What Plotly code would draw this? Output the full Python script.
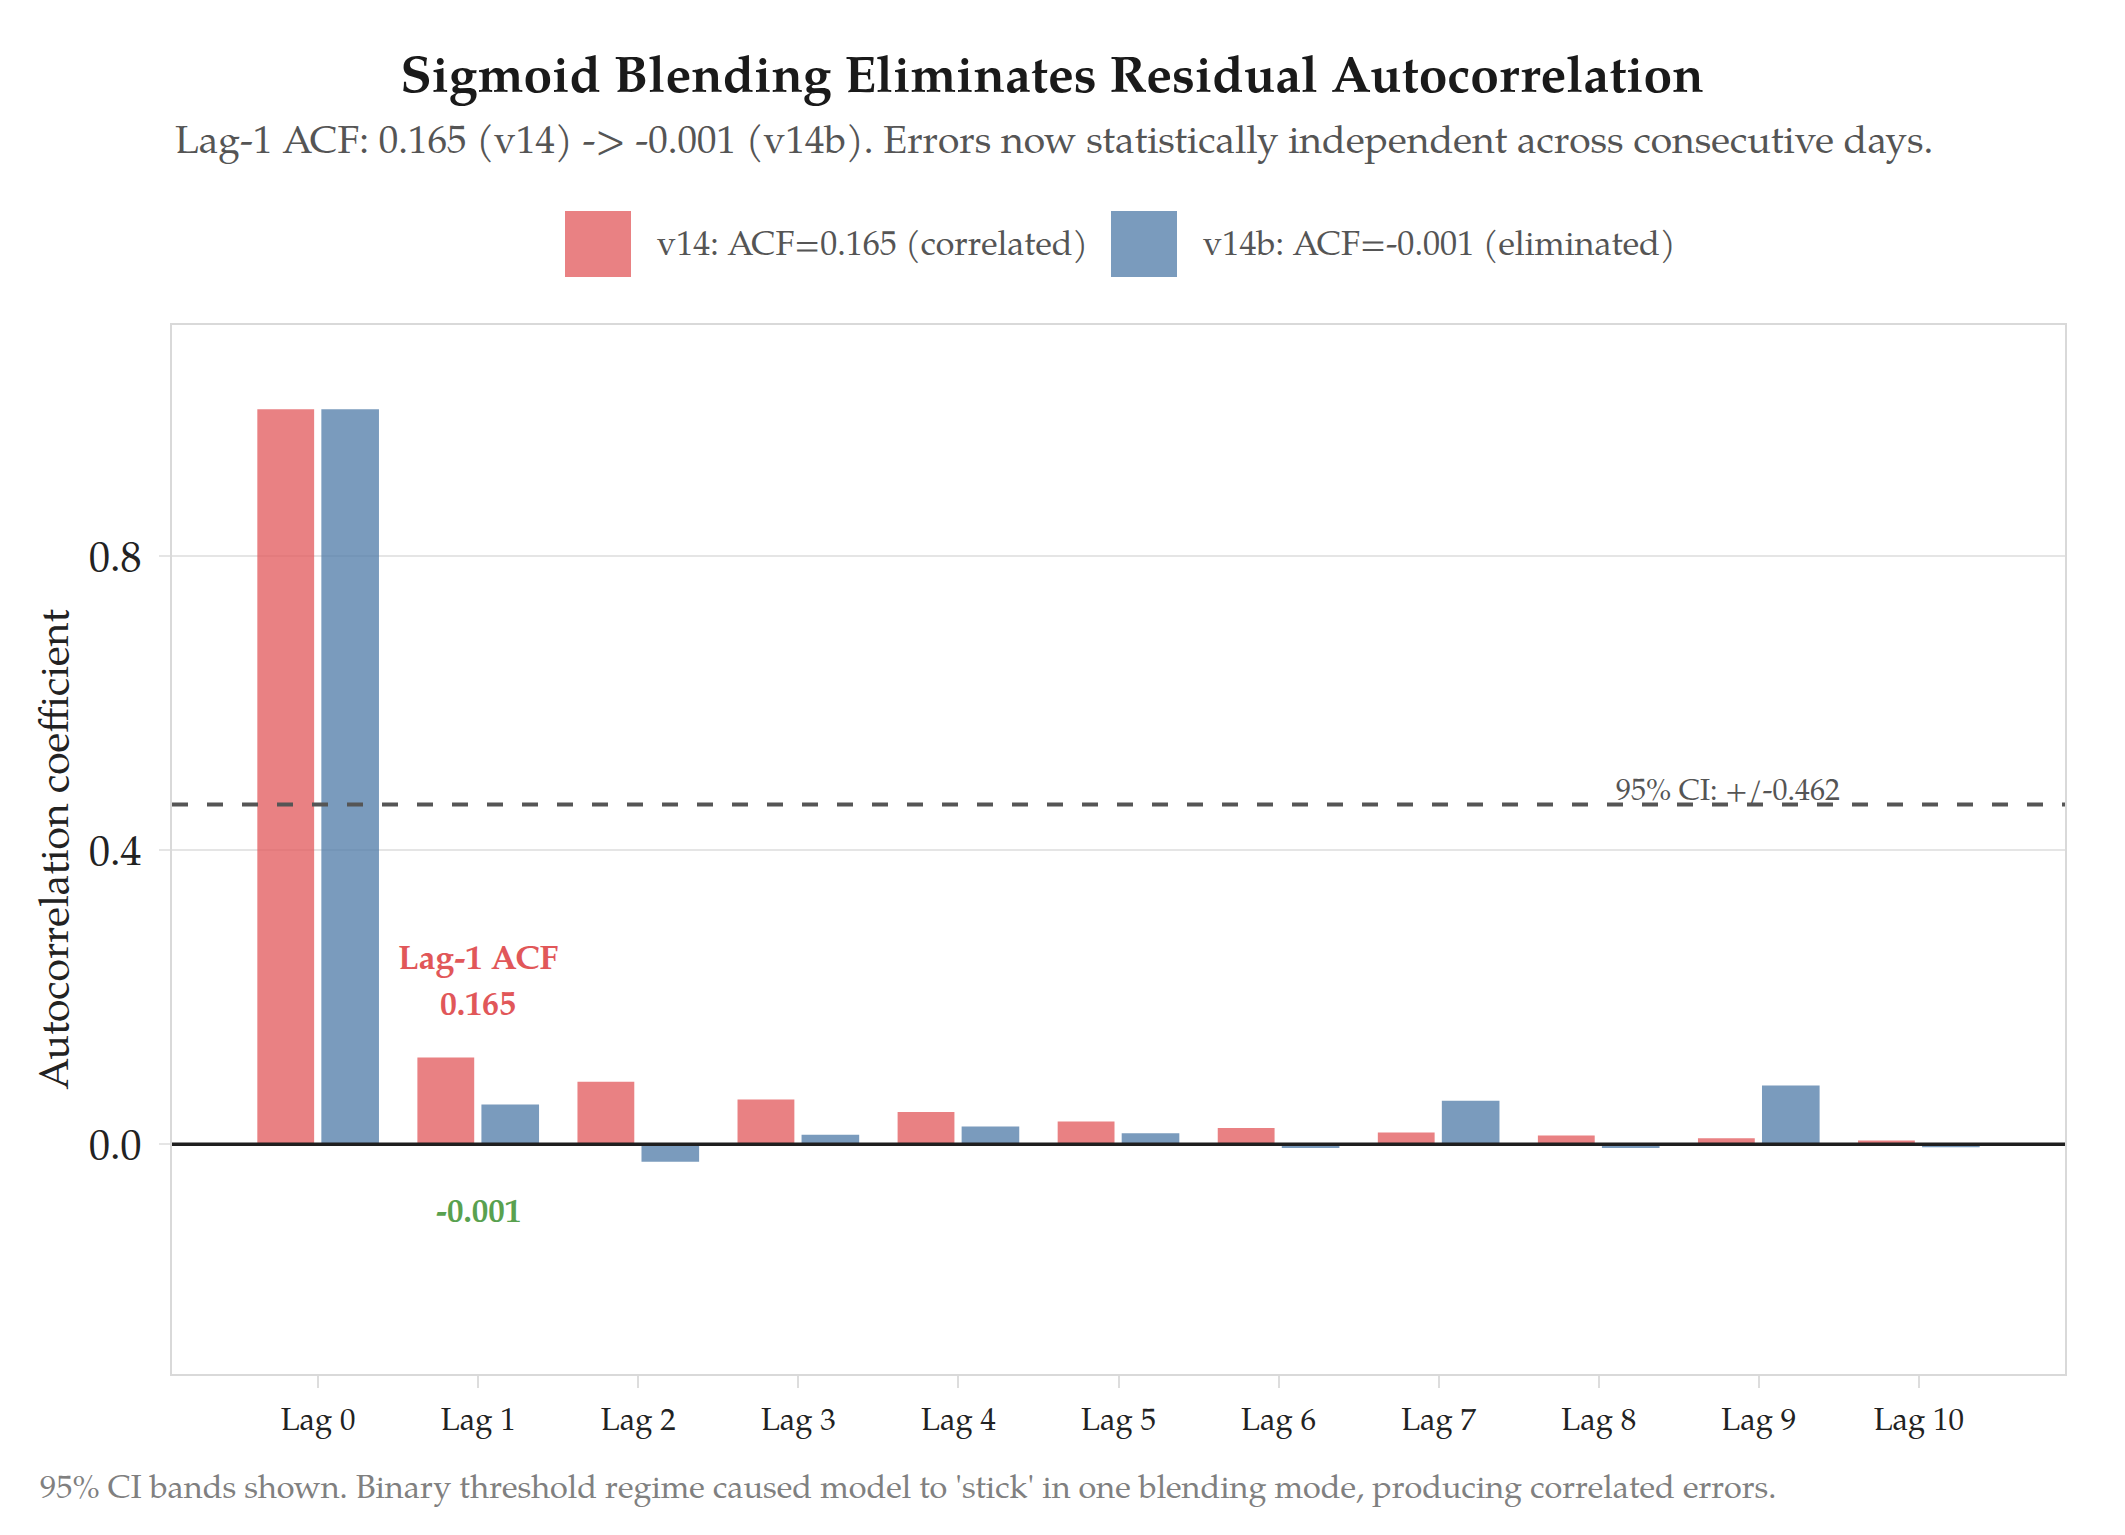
import plotly.graph_objects as go

lags = ["Lag 0", "Lag 1", "Lag 2", "Lag 3", "Lag 4", "Lag 5", "Lag 6", "Lag 7", "Lag 8", "Lag 9", "Lag 10"]
acf_v14 = [1.0, 0.118, 0.085, 0.061, 0.044, 0.031, 0.022, 0.016, 0.012, 0.008, 0.005]
acf_v14b = [1.0, 0.054, -0.024, 0.013, 0.024, 0.015, -0.005, 0.059, -0.005, 0.080, -0.004]
ci_bound = 0.462
name_v14 = "v14: ACF=0.165 (correlated)"
name_v14b = "v14b: ACF=-0.001 (eliminated)"
title_text = "Sigmoid Blending Eliminates Residual Autocorrelation"
subtitle_text = "Lag-1 ACF: 0.165 (v14) -> -0.001 (v14b). Errors now statistically independent across consecutive days."
footnote_text = "95% CI bands shown. Binary threshold regime caused model to 'stick' in one blending mode, producing correlated errors."
ytitle = "Autocorrelation coefficient"

FONT = "Palatino Linotype, Palatino, Book Antiqua, P052, TeX Gyre Pagella, URW Palladio L, Liberation Serif, serif"
RED = "rgba(225,87,89,0.75)"
BLUE = "rgba(78,121,167,0.75)"

W, H = 2125, 1535
ML, MR, MT, MB = 164, 68, 317, 169
PW, PH = W - ML - MR, H - MT - MB


def px_x(p):
    return (p - ML) / PW


def px_y(p):
    return (H - MB - p) / PH


fig = go.Figure()
fig.add_trace(go.Bar(x=lags, y=acf_v14, name=name_v14, marker=dict(color=RED, line=dict(width=0)),
                     width=0.355, offset=-0.38, showlegend=False))
fig.add_trace(go.Bar(x=lags, y=acf_v14b, name=name_v14b, marker=dict(color=BLUE, line=dict(width=0)),
                     width=0.36, offset=0.02, showlegend=False))

shapes = [
    dict(type="line", xref="paper", yref="y", x0=0, x1=1, y0=ci_bound, y1=ci_bound,
         line=dict(color="#555555", width=4, dash="16px,19px"), layer="above"),
    dict(type="line", xref="paper", yref="y", x0=0, x1=1, y0=0, y1=0,
         line=dict(color="#1f1f1f", width=3.5), layer="above"),
    # legend swatches
    dict(type="rect", xref="paper", yref="paper", x0=px_x(557), x1=px_x(623), y0=px_y(269), y1=px_y(203),
         fillcolor=RED, line=dict(width=0)),
    dict(type="rect", xref="paper", yref="paper", x0=px_x(1103), x1=px_x(1169), y0=px_y(269), y1=px_y(203),
         fillcolor=BLUE, line=dict(width=0)),
]

annotations = [
    dict(text=subtitle_text, xref="paper", yref="paper", x=px_x(1046), y=px_y(135), xanchor="center",
         yanchor="middle", showarrow=False, font=dict(size=39, color="#555555", family=FONT)),
    dict(text=name_v14, xref="paper", yref="paper", x=px_x(647), y=px_y(239), xanchor="left",
         yanchor="middle", showarrow=False, font=dict(size=34, color="#555555", family=FONT)),
    dict(text=name_v14b, xref="paper", yref="paper", x=px_x(1193), y=px_y(239), xanchor="left",
         yanchor="middle", showarrow=False, font=dict(size=34.2, color="#555555", family=FONT)),
    dict(text="<b>Lag-1 ACF</b>", x=1, y=0.248, xref="x", yref="y", showarrow=False,
         xanchor="center", yanchor="middle", font=dict(size=33.7, color="#E15759", family=FONT)),
    dict(text="<b>0.165</b>", x=1, y=0.186, xref="x", yref="y", showarrow=False,
         xanchor="center", yanchor="middle", font=dict(size=33.7, color="#E15759", family=FONT)),
    dict(text="<b>-0.001</b>", x=1, y=-0.096, xref="x", yref="y", showarrow=False,
         xanchor="center", yanchor="middle", font=dict(size=33, color="#59A14F", family=FONT)),
    dict(text="95% CI: +/-0.462", x=8.81, y=ci_bound, xref="x", yref="y", showarrow=False,
         xanchor="center", yanchor="bottom", yshift=-5, font=dict(size=30, color="#555555", family=FONT)),
    dict(text=footnote_text, xref="paper", yref="paper", x=px_x(30), y=px_y(1482), xanchor="left",
         yanchor="middle", showarrow=False, font=dict(size=32.4, color="#808080", family=FONT)),
]

fig.update_layout(
    width=W, height=H, autosize=False,
    margin=dict(l=ML, r=MR, t=MT, b=MB, autoexpand=False),
    paper_bgcolor="white", plot_bgcolor="white",
    font=dict(family=FONT, color="#222222"),
    title=dict(text="<b>" + title_text + "</b>", x=1044 / W, xref="container", xanchor="center",
               y=1 - 66 / H, yref="container", yanchor="middle",
               font=dict(size=51.6, color="#1a1a1a", family=FONT)),
    barmode="group",
    showlegend=False,
    shapes=shapes,
    annotations=annotations,
    xaxis=dict(type="category", range=[-0.913, 10.913], showgrid=False, showline=True, mirror=True,
               linecolor="#d9d9d9", linewidth=2, ticks="outside", ticklen=12, tickwidth=2,
               tickcolor="#dddddd", tickfont=dict(size=31, color="#222222"), zeroline=False,
               ticklabelstandoff=5),
    yaxis=dict(range=[-0.3126, 1.1145], dtick=0.4, tick0=0, tickformat=".1f", showgrid=True,
               gridcolor="#e5e5e5", gridwidth=2, showline=True, mirror=True, linecolor="#d9d9d9",
               linewidth=2, ticks="outside", ticklen=11, tickwidth=2, tickcolor="#e5e5e5",
               tickfont=dict(size=42, color="#222222"), zeroline=False, ticklabelstandoff=9,
               title=dict(text=ytitle, font=dict(size=41, color="#222222"), standoff=8)),
)

fig.write_html("out.html")
